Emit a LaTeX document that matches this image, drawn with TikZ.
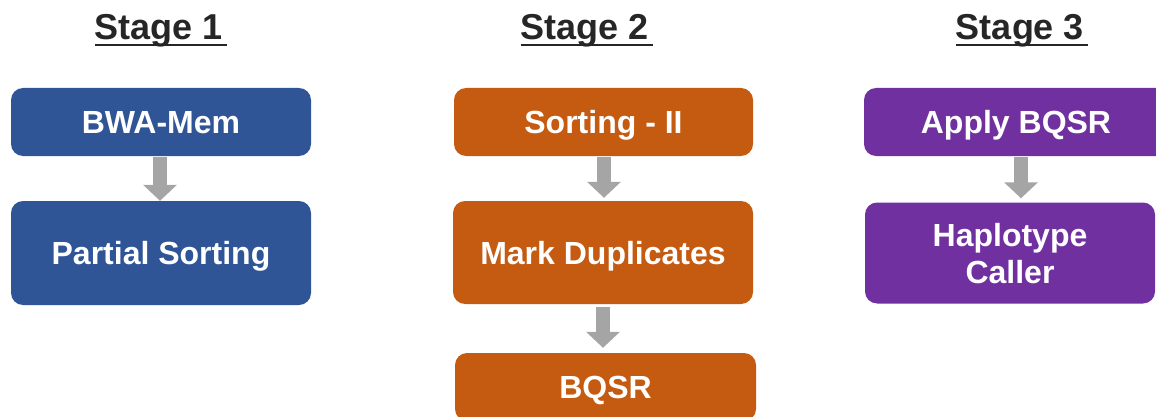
\documentclass[tikz,border=0pt]{standalone}
\usepackage{fontspec}
\setmainfont{Liberation Sans}
\usetikzlibrary{arrows.meta}
\definecolor{stageblue}{HTML}{2F5597}
\definecolor{stageorange}{HTML}{C55A11}
\definecolor{stagepurple}{HTML}{7030A0}
\definecolor{arrowgray}{HTML}{A5A5A5}
\definecolor{headgray}{HTML}{262626}
\begin{document}
\begin{tikzpicture}[x=1pt,y=-1pt,
  box/.style={rounded corners=12pt, fill=#1, text=white,
    font=\fontsize{32}{37}\selectfont\bfseries, inner sep=0pt,
    text height=23pt, text depth=0pt, align=center},
  heading/.style={font=\fontsize{36}{43}\selectfont\bfseries, text=headgray,
    inner sep=0pt, anchor=base},
  rule/.style={draw=headgray, line width=2pt},
  flow/.style={draw=arrowgray, line width=14pt,
    -{Triangle[width=33pt,length=16pt]}}]
\useasboundingbox (0,0) rectangle (1156,417);

% stage headings
\node[heading] (h1) at (159,40) {Stage 1};
\node[heading] (h2) at (585,40) {Stage 2};
\node[heading] (h3) at (1020,40) {Stage 3};
\foreach \h in {h1,h2,h3}
  \draw[rule] ([yshift=-5pt]\h.base west) -- ([xshift=4pt,yshift=-5pt]\h.base east);

% stage 1
\node[box=stageblue, minimum width=300pt, minimum height=68pt] (bwa) at (161,122) {BWA-Mem};
\node[box=stageblue, minimum width=300pt, minimum height=104pt] (partial) at (161,253) {Partial Sorting};

% stage 2
\node[box=stageorange, minimum width=299pt, minimum height=68pt] (sort) at (603.5,122) {Sorting - II};
\node[box=stageorange, minimum width=300pt, minimum height=103pt] (mark) at (603,252.5) {Mark Duplicates};
\node[box=stageorange, minimum width=301pt, minimum height=68pt] (bqsr) at (605.5,387) {BQSR};

% stage 3 (two-line label: box baseline sits on the last line)
\node[box=stagepurple, minimum width=290pt, minimum height=101pt,
      text height=60pt, text depth=0pt] (haplo) at (1010,253) {Haplotype\\Caller};
\node[box=stagepurple, minimum width=304pt, minimum height=68pt] (apply) at (1016,122) {Apply BQSR};

% connectors
\draw[flow, shorten <=1pt] ([xshift=-1pt]bwa.south) -- ([xshift=-1pt]partial.north);
\draw[flow, shorten <=1pt, shorten >=3pt] ([xshift=0.5pt]sort.south) -- ([xshift=0.5pt]sort.south |- mark.north);
\draw[flow, shorten <=3pt, shorten >=5pt] (mark.south) -- (mark.south |- bqsr.north);
\draw[flow, shorten <=1pt, shorten >=4pt] ([xshift=5pt]apply.south) -- ([xshift=5pt]apply.south |- haplo.north);
\end{tikzpicture}
\end{document}
